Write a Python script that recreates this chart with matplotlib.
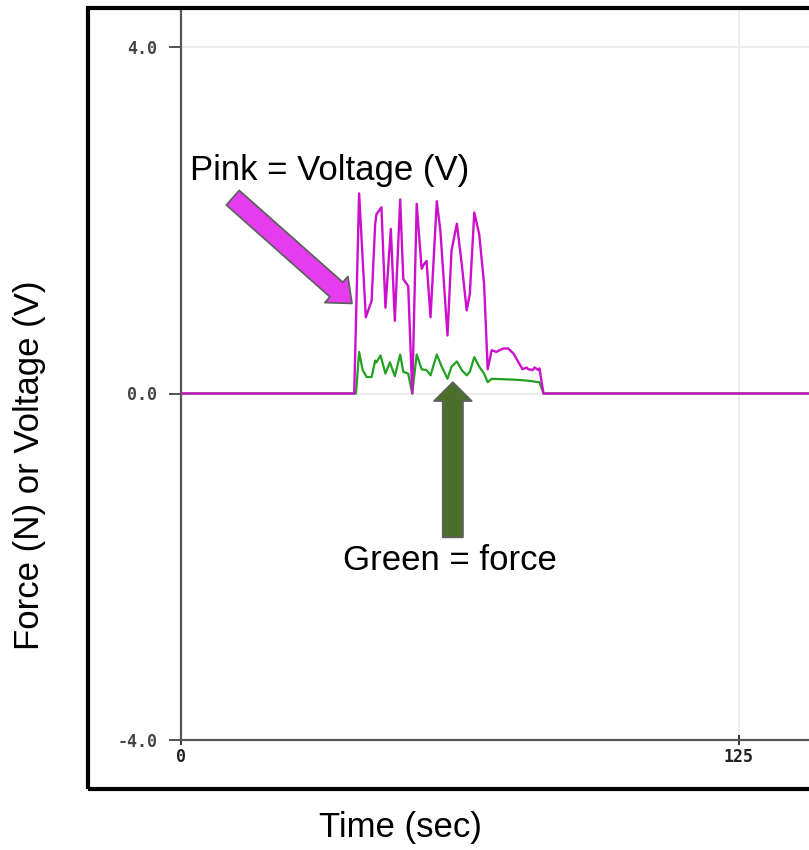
import matplotlib
matplotlib.use('Agg')
import matplotlib.pyplot as plt
from matplotlib.patches import Rectangle
from matplotlib.font_manager import FontProperties

# voltage trace (pink)
volt_t = [0, 38.8, 39.9, 41.4, 42.7, 43.5, 43.8, 44.9, 45.8, 47.0, 47.9, 49.1,
          49.8, 50.9, 51.8, 52.8, 53.9, 54.4, 55.0, 55.9, 57.3, 58.1, 59.7,
          60.6, 61.8, 62.9, 64.0, 64.7, 65.7, 66.8, 67.9, 68.7, 69.6, 70.6,
          72.2, 73.3, 74.5, 75.6, 76.5, 77.4, 77.8, 78.8, 79.2, 80.1, 80.3,
          81.2, 145]
volt_v = [0, 0, 2.31, 0.88, 1.07, 1.96, 2.07, 2.15, 0.99, 1.90, 0.84, 2.24,
          1.32, 1.24, 0.0, 2.19, 1.44, 1.49, 1.53, 0.88, 2.22, 1.88, 0.67,
          1.65, 1.96, 1.49, 0.96, 1.15, 2.09, 1.84, 1.26, 0.28, 0.50, 0.48,
          0.52, 0.52, 0.46, 0.36, 0.28, 0.30, 0.28, 0.27, 0.30, 0.27, 0.29,
          0, 0]

# force trace (green)
force_t = [0, 39.2, 39.9, 40.7, 41.6, 42.7, 43.5, 43.8, 44.7, 45.8, 46.8,
           47.9, 49.1, 49.8, 50.9, 51.8, 52.8, 53.9, 55.0, 55.9, 57.3, 58.4,
           59.7, 60.6, 61.8, 62.9, 64.0, 64.7, 65.7, 66.8, 67.9, 68.7, 69.6,
           74.5, 77.4, 80.3, 81.2, 145]
force_v = [0, 0, 0.48, 0.27, 0.19, 0.19, 0.38, 0.36, 0.44, 0.23, 0.36,
           0.20, 0.45, 0.25, 0.23, 0.0, 0.45, 0.28, 0.27, 0.21, 0.45, 0.31,
           0.17, 0.31, 0.37, 0.27, 0.21, 0.25, 0.42, 0.31, 0.23, 0.13, 0.17,
           0.16, 0.15, 0.13, 0, 0]

y_ticks = [-4.0, 0.0, 4.0]
x_ticks = [0, 125]

W, H = 809, 850
fig = plt.figure(figsize=(W / 100, H / 100), dpi=100)

# axes: x=0 at px 181, x=125 at px 739; y=-4 at px 740, y=4 at px 47
px_per_t = (739 - 181) / 125
px_per_v = (740 - 47) / 8
ax = fig.add_axes([181 / W, (H - 740) / H, 1 - 181 / W, (740 - 8) / H])
ax.set_xlim(0, (W - 181) / px_per_t)
ax.set_ylim(-4, 4 + (47 - 8) / px_per_v)

ax.grid(True, color='#ececec', lw=1.3)
ax.set_axisbelow(True)
ax.set_xticks(x_ticks)
ax.set_yticks(y_ticks)
ax.set_xticklabels([str(t) for t in x_ticks])
ax.set_yticklabels(['%.1f' % v for v in y_ticks])
for lab in ax.get_xticklabels() + ax.get_yticklabels():
    lab.set_fontproperties(FontProperties(family='DejaVu Sans Mono', weight='bold', size=12))
    lab.set_color('#333333')
ax.tick_params(axis='y', direction='out', length=9, width=1.3, colors='#444444', pad=8)
ax.tick_params(axis='x', direction='inout', length=7, width=1.3, colors='#222222', pad=2)
for s in ['top', 'right']:
    ax.spines[s].set_visible(False)
for s in ['left', 'bottom']:
    ax.spines[s].set_color('#555555')
    ax.spines[s].set_linewidth(1.6)

ax.plot(force_t, force_v, color='#22a022', lw=1.6, zorder=3)
ax.plot(volt_t, volt_v, color='#cc10cc', lw=1.7, zorder=4)

# arrows
ax.annotate('', xy=(38.3, 1.04), xytext=(11.6, 2.26),
            arrowprops=dict(arrowstyle='simple,head_width=2.5,head_length=1.5,tail_width=1.4',
                            mutation_scale=10, fc='#e63cf0', ec='#606060', lw=1.3,
                            shrinkA=0, shrinkB=0), zorder=5)
ax.annotate('', xy=(60.9, 0.13), xytext=(60.9, -1.66),
            arrowprops=dict(arrowstyle='simple,head_width=2.7,head_length=1.35,tail_width=1.45',
                            mutation_scale=10, fc='#4a702c', ec='#606060', lw=1.3,
                            shrinkA=0, shrinkB=0), zorder=5)

ax.text(2.0, 2.57, 'Pink = Voltage (V)', family='Liberation Sans', fontsize=25,
        va='center', ha='left')
ax.text(36.3, -1.93, 'Green = force', family='Liberation Sans', fontsize=25,
        va='center', ha='left')

# outer frame, cut off at the right edge
fig.patches.append(Rectangle((88 / W, (H - 789) / H), 1.0, (789 - 7.5) / H,
                             transform=fig.transFigure, fill=False,
                             ec='black', lw=3, clip_on=False))

fig.text(30 / W, 1 - 465 / H, 'Force (N) or Voltage (V)', family='Liberation Sans',
         fontsize=25, rotation=90, ha='center', va='center')
fig.text(400 / W, 1 - 828 / H, 'Time (sec)', family='Liberation Sans',
         fontsize=25, ha='center', va='center')

fig.savefig('out.png', dpi=100)
